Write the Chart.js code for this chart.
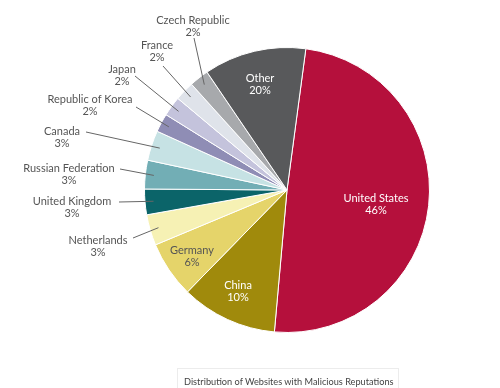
<!DOCTYPE html>
<html>
<head>
<meta charset="utf-8">
<script src="https://cdn.jsdelivr.net/npm/chart.js@4/dist/chart.umd.min.js"></script>
<style>
  body { margin: 0; background: #fff; }
  #wrap { position: relative; width: 500px; height: 388px; }
  .caption {
    position: absolute; left: 177px; top: 368px; width: 222px; height: 30px;
    border: 1px solid #ececec; box-sizing: border-box;
    font-family: "Lato", sans-serif; font-size: 9.2px; color: #444;
    padding: 7px 0 0 6px; white-space: nowrap;
  }
</style>
</head>
<body>
<div id="wrap">
  <canvas id="myChart" width="500" height="388"></canvas>
  <div class="caption">Distribution of Websites with Malicious Reputations</div>
</div>
<script>
// slice order goes clockwise from the top
const countries = ['United States', 'China', 'Germany', 'Netherlands', 'United Kingdom', 'Russian Federation',
    'Canada', 'Republic of Korea', 'Japan', 'France', 'Czech Republic', 'Other'];
const printedPct = ['46%', '10%', '6%', '3%', '3%', '3%', '3%', '2%', '2%', '2%', '2%', '20%'];
// shares as measured from the slice angles in the picture
const shares = [49.3, 10.9, 6.4, 3.5, 2.9, 3.25, 3.4, 2.1, 2.25, 2.2, 2.2, 11.6];
const colors = ['#b5103c', '#a08a0c', '#e5d46a', '#f6f1b4', '#0b6469', '#72aeb5',
    '#c6e2e4', '#8f8db5', '#c4c3dc', '#dfe3ea', '#a7a9ac', '#58595b'];

// where each label sits; lx/ly is where its leader line starts (none = label sits on the slice)
const labelLayout = [
    { x: 376, y: 198, color: '#fff' },
    { x: 238, y: 285, color: '#fff' },
    { x: 192, y: 250, color: '#555' },
    { x: 98, y: 240, color: '#555', lx: 133, ly: 238 },
    { x: 72, y: 201, color: '#555', lx: 119, ly: 202 },
    { x: 69, y: 168, color: '#555', lx: 120, ly: 169 },
    { x: 62, y: 131, color: '#555', lx: 86, ly: 132 },
    { x: 90, y: 99, color: '#555', lx: 136, ly: 107 },
    { x: 122, y: 69, color: '#555', lx: 135, ly: 76 },
    { x: 157, y: 45, color: '#555', lx: 163, ly: 66 },
    { x: 193, y: 20, color: '#555', lx: 194, ly: 38 },
    { x: 260, y: 78, color: '#fff' }
];

const sliceLabels = {
    id: 'sliceLabels',
    afterDatasetsDraw(chart) {
        const ctx = chart.ctx;
        const arcs = chart.getDatasetMeta(0).data;
        ctx.save();
        ctx.font = '11px Lato, sans-serif';
        ctx.textAlign = 'center';
        ctx.textBaseline = 'middle';
        for (let i = 0; i < arcs.length; i++) {
            const a = arcs[i];
            const L = labelLayout[i];
            if (L.lx !== undefined) {
                const mid = (a.startAngle + a.endAngle) / 2;
                const r = a.outerRadius * 0.94;
                ctx.strokeStyle = '#666';
                ctx.lineWidth = 1;
                ctx.beginPath();
                ctx.moveTo(L.lx, L.ly);
                ctx.lineTo(a.x + Math.cos(mid) * r, a.y + Math.sin(mid) * r);
                ctx.stroke();
            }
            ctx.fillStyle = L.color;
            ctx.fillText(countries[i], L.x, L.y);
            ctx.fillText(printedPct[i], L.x, L.y + 12);
        }
        ctx.restore();
    }
};

let myChart = new Chart('myChart', {
    type: 'pie',
    data: {
        labels: countries,
        datasets: [{
            data: shares,
            backgroundColor: colors,
            borderColor: '#fff',
            borderWidth: 1
        }]
    },
    options: {
        responsive: false,
        animation: false,
        rotation: 7.6,
        layout: { padding: { left: 144, right: 70, top: 47, bottom: 55 } },
        plugins: {
            legend: { display: false },
            tooltip: { enabled: false }
        }
    },
    plugins: [sliceLabels]
});
</script>
</body>
</html>
